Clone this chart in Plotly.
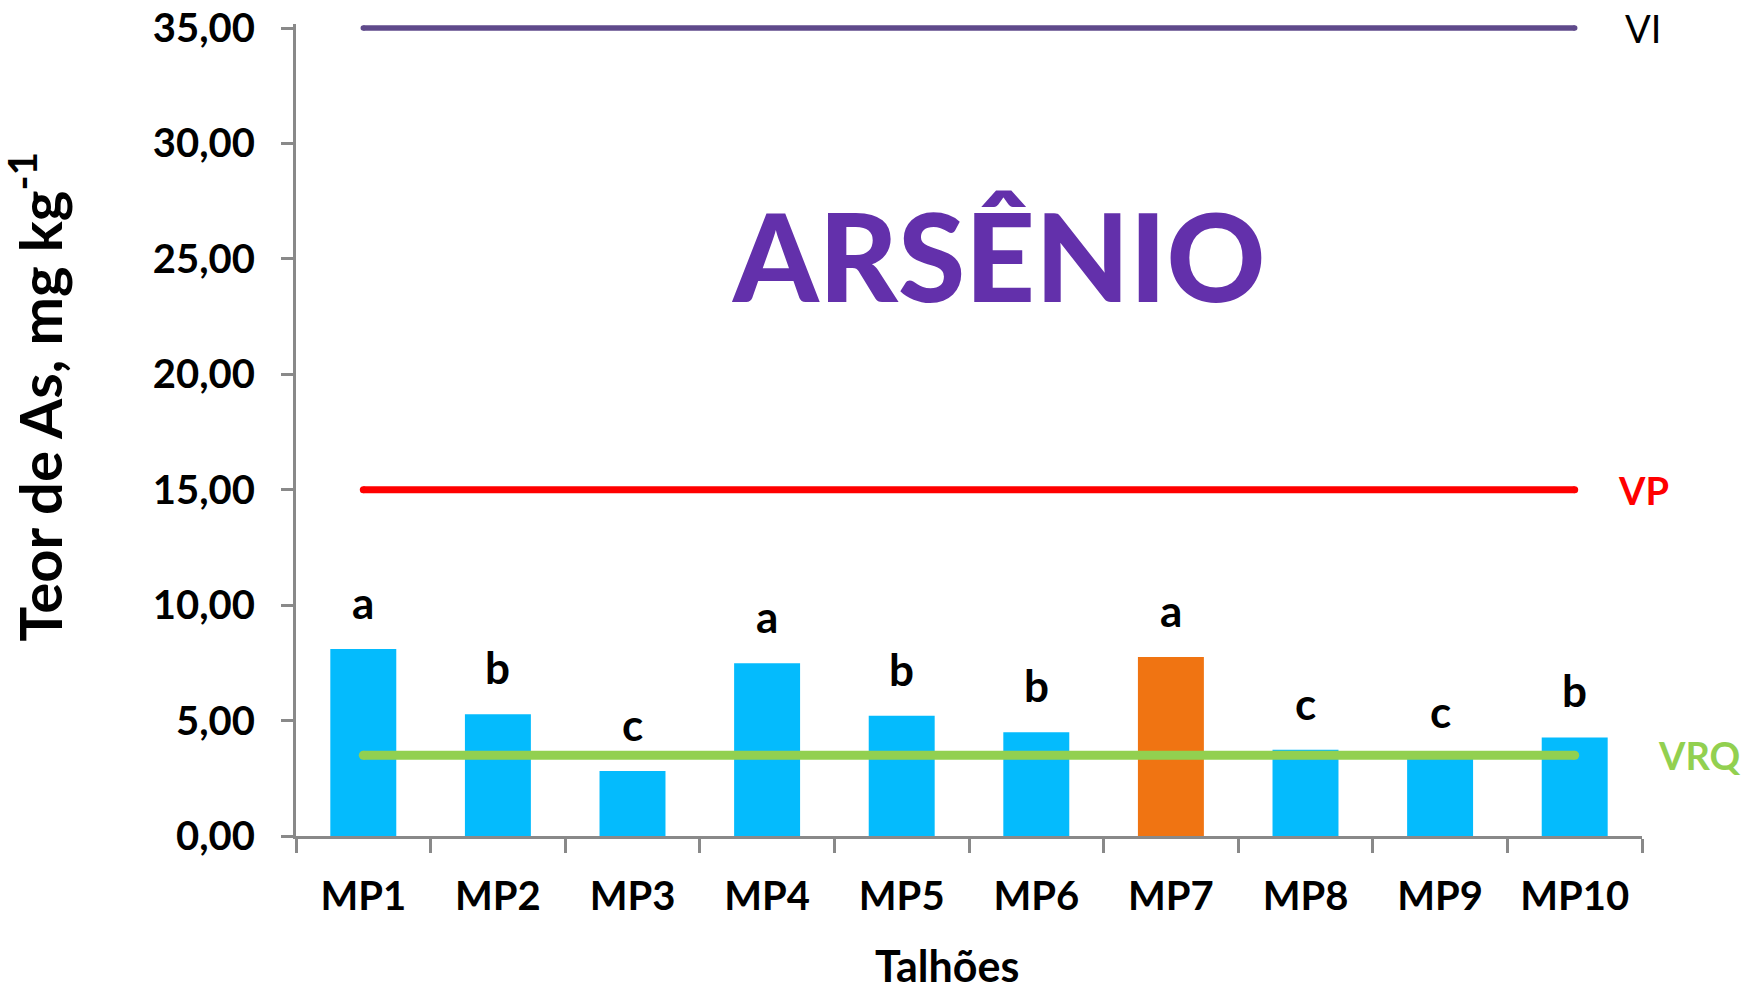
import plotly.graph_objects as go

# Arsenic content per field plot (mg kg-1)
talhoes = ["MP1", "MP2", "MP3", "MP4", "MP5", "MP6", "MP7", "MP8", "MP9", "MP10"]
teor_as = [8.10, 5.27, 2.82, 7.48, 5.21, 4.49, 7.75, 3.74, 3.40, 4.27]
letras = ["a", "b", "c", "a", "b", "b", "a", "c", "c", "b"]
cores_barras = ["#04BBFD"] * 6 + ["#F07412"] + ["#04BBFD"] * 3

# Guiding values (VRQ, VP, VI)
limites_nomes = ["VRQ", "VP", "VI"]
limites_valores = [3.5, 15.0, 35.0]
limites_cores = ["#92D050", "#FF0000", "#5F4A8B"]
limites_larguras = [9, 7, 5.5]

y_ticks = [0, 5, 10, 15, 20, 25, 30, 35]
# a little headroom above 35 so the VI line is not clipped by the plot area
y_range = [0, 35.175]

FONT = "Lato"

fig = go.Figure()

fig.add_trace(go.Bar(
    x=talhoes, y=teor_as,
    marker=dict(color=cores_barras, line=dict(width=0)),
    showlegend=False, hoverinfo="x+y",
))

for nome, valor, cor, larg in zip(limites_nomes, limites_valores, limites_cores, limites_larguras):
    fig.add_trace(go.Scatter(
        x=[talhoes[0], talhoes[-1]], y=[valor, valor],
        mode="lines+markers",
        line=dict(color=cor, width=larg),
        marker=dict(color=cor, size=larg, line=dict(width=0)),
        cliponaxis=False, showlegend=False, name=nome,
    ))

annotations = []

# significance letters above each bar
for t, v, l in zip(talhoes, teor_as, letras):
    annotations.append(dict(
        x=t, y=v, xref="x", yref="y", text=l, showarrow=False,
        yanchor="middle", yshift=47,
        font=dict(family=FONT, size=44, color="black", weight="bold"),
    ))

# labels for the guiding-value lines
annotations += [
    dict(x=0.9859, y=35, xref="paper", yref="y", text="VI", showarrow=False,
         xanchor="left", yanchor="middle",
         font=dict(family=FONT, size=38, color="black")),
    dict(x=0.9807, y=15, xref="paper", yref="y", text="VP", showarrow=False,
         xanchor="left", yanchor="middle",
         font=dict(family=FONT, size=38, color="#FF0000", weight="bold")),
    dict(x=1.0104, y=3.5, xref="paper", yref="y", text="VRQ", showarrow=False,
         xanchor="left", yanchor="middle",
         font=dict(family=FONT, size=38, color="#92D050", weight="bold")),
]

# chart heading
annotations.append(dict(
    x=0.5215, y=0.716, xref="paper", yref="paper", text="ARSÊNIO",
    showarrow=False, xanchor="center", yanchor="middle",
    font=dict(family=FONT, size=122, color="#6330AB", weight=900),
))

# axis titles
annotations.append(dict(
    x=-0.194, y=0.541, xref="paper", yref="paper",
    text="Teor de As, mg kg<sup>-1</sup>", textangle=-90, showarrow=False,
    xanchor="center", yanchor="middle",
    font=dict(family=FONT, size=58, color="black", weight="bold"),
))
annotations.append(dict(
    x=0.4837, y=-0.159, xref="paper", yref="paper", text="Talhões",
    showarrow=False, xanchor="center", yanchor="middle",
    font=dict(family=FONT, size=43, color="black", weight="bold"),
))

AXIS_GRAY = "#898989"

fig.update_layout(
    width=1752, height=986,
    margin=dict(l=296, r=110, t=24, b=150, autoexpand=False),
    paper_bgcolor="white", plot_bgcolor="white",
    bargap=0.51,
    separators=",.",
    annotations=annotations,
    xaxis=dict(
        type="category", range=[-0.5, 9.5], tickson="boundaries", automargin=False,
        showline=True, linecolor=AXIS_GRAY, linewidth=3,
        ticks="outside", ticklen=14, tickwidth=3, tickcolor=AXIS_GRAY,
        showgrid=False, zeroline=False,
        tickfont=dict(family=FONT, size=40, color="black", weight="bold"),
        ticklabelstandoff=23,
    ),
    yaxis=dict(
        range=y_range, tickvals=y_ticks, tickformat=".2f", automargin=False,
        showline=True, linecolor=AXIS_GRAY, linewidth=3,
        ticks="outside", ticklen=12, tickwidth=3, tickcolor=AXIS_GRAY,
        showgrid=False, zeroline=False,
        tickfont=dict(family=FONT, size=40, color="black", weight="bold"),
        ticklabelstandoff=18,
    ),
)

fig.write_html("out.html")
